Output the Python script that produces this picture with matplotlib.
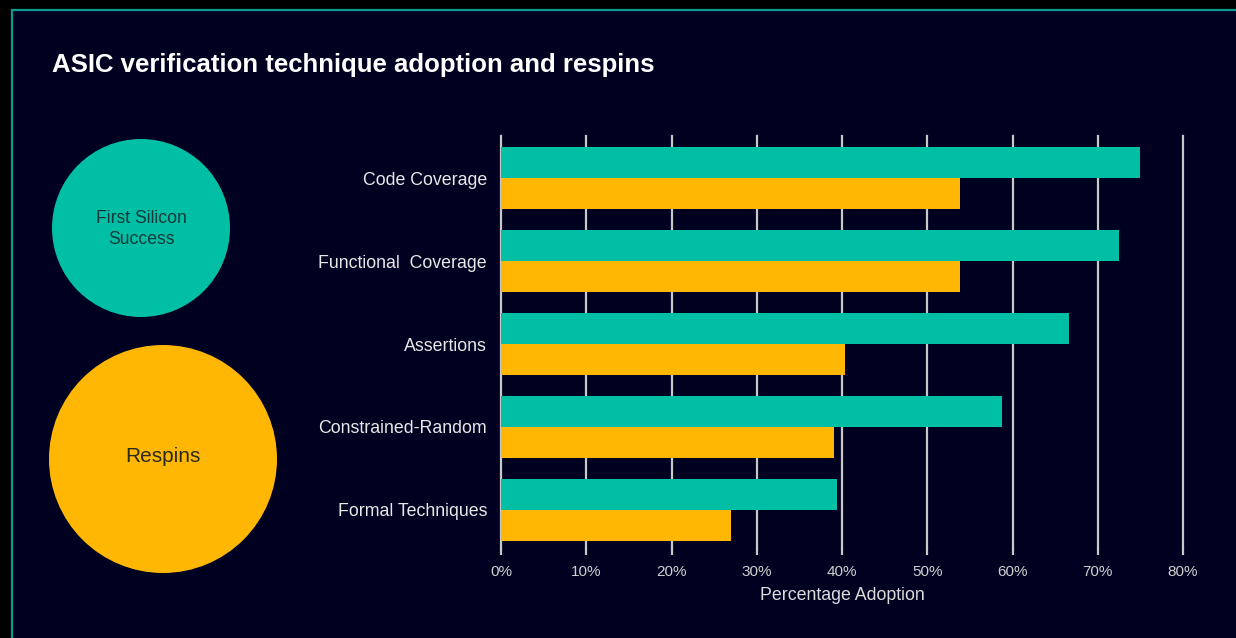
import matplotlib.pyplot as plt
from matplotlib.patches import Rectangle, Ellipse

# Survey results: share of projects using each technique
categories = ["Code Coverage", "Functional  Coverage", "Assertions",
              "Constrained-Random", "Formal Techniques"]
first_silicon = [75.0, 72.5, 66.6, 58.8, 39.4]
respins = [53.8, 53.8, 40.4, 39.1, 27.0]
ticks = [0, 10, 20, 30, 40, 50, 60, 70, 80]

teal = "#00BFA5"
amber = "#FFB703"
navy = "#000020"

plt.rcParams['font.family'] = ['Liberation Sans', 'DejaVu Sans']

fig = plt.figure(figsize=(12.36, 6.38), dpi=100)
fig.patch.set_facecolor("black")
W, H = 1236, 638

# slide panel with thin teal frame
fig.patches.append(Rectangle((12 / W, -0.01), 1.02, 1 - 9.5 / H + 0.01,
                             transform=fig.transFigure, facecolor=navy,
                             edgecolor="#0A9A90", linewidth=1.6, zorder=-5))

fig.text(52 / W, 1 - 65 / H, "ASIC verification technique adoption and respins",
         color="white", fontsize=18.5, fontweight="bold", va="center", ha="left")

# legend circles
leg = fig.add_axes([0, 0, 1, 1])
leg.set_xlim(0, W)
leg.set_ylim(H, 0)
leg.axis("off")
leg.patch.set_alpha(0)
leg.add_patch(Ellipse((141, 228), 178, 178, facecolor=teal, edgecolor="none"))
leg.add_patch(Ellipse((163, 459), 228, 228, facecolor=amber, edgecolor="none"))
leg.text(141, 229, "First Silicon\nSuccess", ha="center", va="center",
         fontsize=12.7, color="#15393a", linespacing=1.25)
leg.text(163, 456, "Respins", ha="center", va="center",
         fontsize=15, color="#2a2a1a")

# bar chart
ax = fig.add_axes([501 / W, 1 - 548 / H, (1183 - 501) / W, (548 - 136) / H])
ax.set_facecolor("none")
n = len(categories)
pos = [n - 1 - i for i in range(n)]
h = 0.375
ax.barh([p + h / 2 for p in pos], first_silicon, height=h, color=teal, zorder=3)
ax.barh([p - h / 2 for p in pos], respins, height=h, color=amber, zorder=3)

ax.set_xlim(0, 80)
ax.set_ylim(-0.46, n - 1 + 0.51)
ax.set_xticks(ticks)
ax.set_xticklabels([f"{t}%" for t in ticks], color="#d0d0d0", fontsize=11)
ax.set_yticks(pos)
ax.set_yticklabels(categories, color="#e8e8e8", fontsize=12.8)
ax.tick_params(axis="y", length=0, pad=10)
ax.tick_params(axis="x", length=5, width=1.6, color="#c8c8c8", pad=7)
ax.grid(axis="x", color="#c8c8c8", linewidth=1.6, zorder=1)
for line in ax.get_xgridlines():
    line.set_clip_on(False)
for s in ax.spines.values():
    s.set_visible(False)
ax.set_xlabel("Percentage Adoption", color="#dddddd", fontsize=12.8, labelpad=6)

fig.savefig("out.png", dpi=100, facecolor=fig.get_facecolor())
